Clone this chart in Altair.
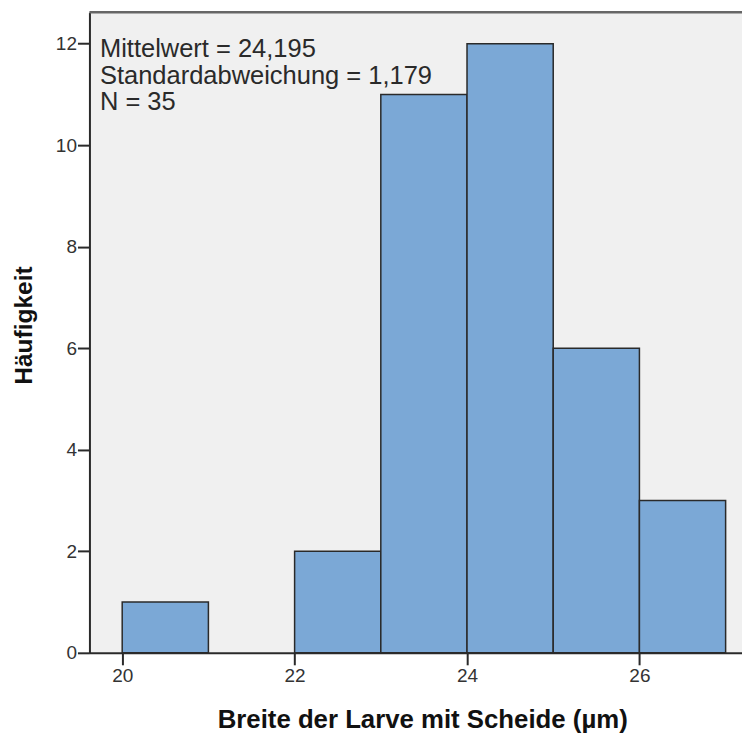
import altair as alt
import pandas as pd

bin_start = [20, 21, 22, 23, 24, 25, 26]
bin_end = [21, 22, 23, 24, 25, 26, 27]
counts = [1, 0, 2, 11, 12, 6, 3]
x_ticks = [20, 22, 24, 26]
y_ticks = [0, 2, 4, 6, 8, 10, 12]
stats_lines = ["Mittelwert = 24,195", "Standardabweichung = 1,179", "N = 35"]

df = pd.DataFrame({"start": bin_start, "end": bin_end, "count": counts})
df = df[df["count"] > 0]

FONT = "Liberation Sans"
W, H = 653, 641

xscale = alt.Scale(domain=[19.62, 27.19], nice=False, zero=False)
yscale = alt.Scale(domain=[0, 12.62], nice=False, zero=True)

bars = alt.Chart(df).mark_rect(
    fill="#7BA8D6", stroke="#2a2a2a", strokeWidth=1.5
).encode(
    x=alt.X("start:Q", scale=xscale,
            axis=alt.Axis(values=x_ticks, title="Breite der Larve mit Scheide (µm)",
                          grid=False, domainColor="#2a2a2a", domainWidth=2,
                          tickColor="#2a2a2a", tickWidth=2, tickSize=12,
                          labelFont=FONT, labelFontSize=19, labelColor="#333333",
                          labelPadding=2,
                          titleFont=FONT, titleFontSize=25.8, titleFontWeight="bold",
                          titleColor="#111111", titleBaseline="alphabetic",
                          titleAlign="center", titleX=333, titleY=75)),
    x2="end:Q",
    y=alt.Y("count:Q", scale=yscale,
            axis=alt.Axis(values=y_ticks, title="Häufigkeit",
                          grid=False, domainColor="#2a2a2a", domainWidth=2,
                          tickColor="#2a2a2a", tickWidth=2, tickSize=12,
                          labelFont=FONT, labelFontSize=19, labelColor="#333333",
                          labelPadding=1,
                          titleFont=FONT, titleFontSize=24.5, titleFontWeight="bold",
                          titleColor="#111111", titleAngle=270,
                          titleBaseline="alphabetic", titleAlign="center",
                          titleX=-57.5, titleY=313)),
    y2=alt.datum(0),
)

top_border = alt.Chart(pd.DataFrame({"v": [0]})).mark_rule(
    color="#666666", strokeWidth=2.5
).encode(x=alt.value(0), x2=alt.value(W), y=alt.value(0))

stats = alt.Chart(pd.DataFrame({"t": ["\n".join(stats_lines)]})).mark_text(
    align="left", baseline="alphabetic", font=FONT, fontSize=25.5,
    lineBreak="\n", lineHeight=26.5, color="#2a2a2a"
).encode(text="t:N", x=alt.value(10.5), y=alt.value(45))

chart = alt.layer(bars, top_border, stats).properties(
    width=W, height=H,
    background="white",
    padding={"left": 81.5, "top": 4, "right": 0, "bottom": 82},
    autosize=alt.AutoSizeParams(type="none"),
).configure_view(fill="#F0F0F0", stroke=None)

chart.save("out.html", embed_options={"renderer": "svg", "actions": False})
